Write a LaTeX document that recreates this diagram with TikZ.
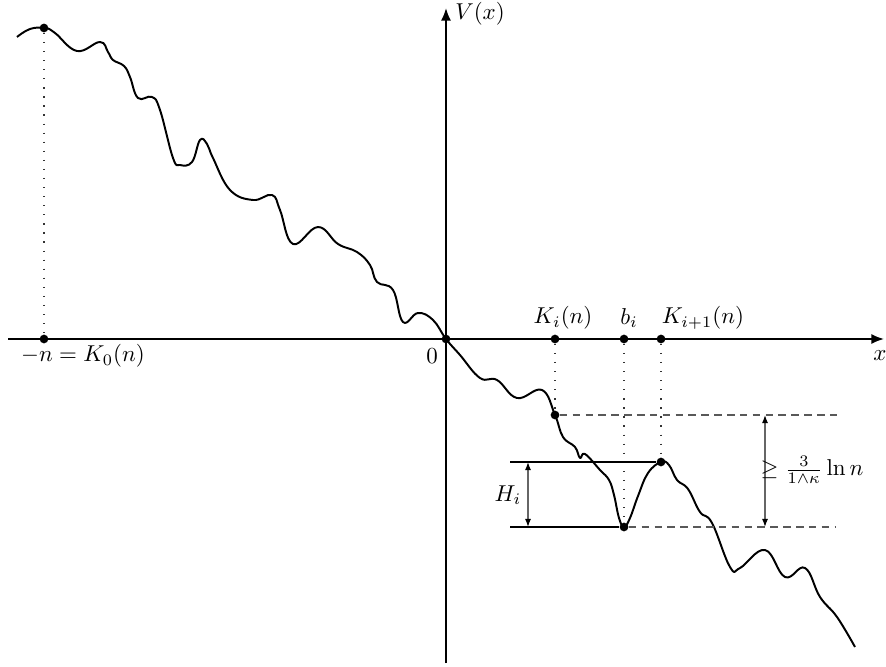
\documentclass[tikz,border=0pt]{standalone}
\usepackage{amsmath,amssymb}
\usetikzlibrary{arrows.meta,positioning}

\begin{document}
\begin{tikzpicture}[x=0.0153cm, y=-0.0153cm]
  \tikzset{
    axis/.style={line width=0.8pt, -{Latex[length=5.5pt,width=4.4pt]}},
    curve/.style={line width=0.85pt, line join=round},
    dot/.style={circle, fill=black, inner sep=0pt, minimum size=3.8pt},
    drop/.style={black!80, line width=0.55pt, dash pattern=on 0.55pt off 3.4pt},
    lvl/.style={black!65, line width=0.55pt, dash pattern=on 3.3pt off 2.3pt},
    bar/.style={line width=0.45pt},
    gap/.style={black!60, line width=0.5pt, {Latex[length=3.5pt,width=2.6pt,black]}-{Latex[length=3.5pt,width=2.6pt,black]}},
    lbl/.style={inner sep=1pt}
  }
  \useasboundingbox (0,0) rectangle (886,667);

  % - Axes ---
  \coordinate (xl) at (8,339);
  \coordinate (xr) at (884,339);
  \coordinate (yb) at (446,663);
  \coordinate (yt) at (446,8);
  \draw[axis] (xl) -- (xr);
  \draw[axis] (yb) -- (yt);
  \node[lbl] (xlab) at (880,356) {$x$};
  \node[lbl] (ylab) at (480,14) {$V(x)$};

  % - The potential ---
  \draw[curve] plot[smooth, tension=0.7] coordinates {
    (17,37) (30,29) (45,28) (55,33) (77,51) (100,42) (108,52) (113,60)
    (124,66) (130,77) (138,98) (152,97) (160,110) (173,158) (180,165)
    (192,162) (200,140) (207,144) (213,158) (230,190) (253,200) (272,195)
    (280,210) (293,244) (318,227) (338,244) (357,252) (370,265) (377,282)
    (393,290) (403,322) (418,313) (433,320) (446,339)
    (460,355) (480,378) (497,380) (517,398) (542,390) (555,415) (563,437)
    (575,447) (580,458) (585,454) (600,470) (609,480) (614,495) (619,518)
    (624,527) (630,518) (638,496) (648,473) (661,462) (669,465) (677,480)
    (688,489) (700,512) (712,523) (730,567)
    (740,568) (765,550) (785,577) (805,568) (820,597) (837,617) (855,647)};

  % - Points ---
  \node[dot] (top) at (44,28) {};
  \node[dot] (k0) at (44,339) {};
  \node[dot] (o) at (446,339) {};
  \node[dot] (ki) at (555,339) {};
  \node[dot] (bi) at (624,339) {};
  \node[dot] (kj) at (661,339) {};
  \node[dot] (vki) at (555,415) {};
  \node[dot] (vbi) at (624,527) {};
  \node[dot] (vkj) at (661,462) {};

  \node[lbl] (lk0) at (83,356) {$-n=K_0(n)$};
  \node[lbl] (lo) at (432,356) {$0$};
  \node[lbl] (lki) at (563,318) {$K_i(n)$};
  \node[lbl] (lbi) at (629,318) {$b_i$};
  \node[lbl] (lkj) at (703,318) {$K_{i+1}(n)$};

  % - Drops ---
  \draw[drop] (top) -- (k0);
  \draw[drop] (ki) -- (vki);
  \draw[drop] (bi) -- (vbi);
  \draw[drop] (kj) -- (vkj);

  % - Levels ---
  \coordinate (d1) at (838,415);
  \coordinate (d2) at (835,527);
  \draw[lvl] (vki) -- (d1);
  \draw[lvl] (vbi) -- (d2);
  \coordinate (h1) at (510,462);
  \coordinate (h2) at (510,527);
  \draw[bar] (h1) -- (vkj);
  \draw[bar] (h2) -- (vbi);

  % - Heights ---
  \coordinate (a1) at (528,462);
  \coordinate (a2) at (528,527);
  \draw[gap] (a1) -- (a2);
  \node[lbl] (lh) at (508,495) {$H_i$};
  \coordinate (b1) at (765,415);
  \coordinate (b2) at (765,527);
  \draw[gap] (b1) -- (b2);
  \node[lbl] (lg) at (812,470) {$\geq\frac{3}{1\wedge\kappa}\ln n$};
\end{tikzpicture}
\end{document}
